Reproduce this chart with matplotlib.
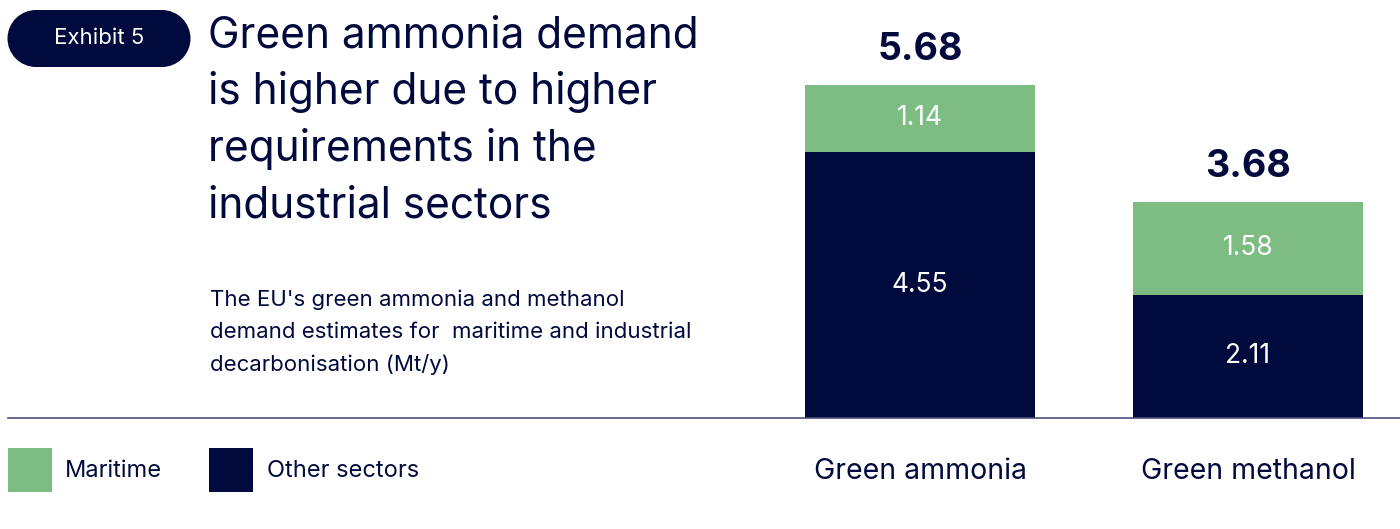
import matplotlib.pyplot as plt
from matplotlib.patches import Rectangle, Ellipse

plt.rcParams['font.family'] = ['Inter', 'DejaVu Sans']

NAVY = '#000a3c'
GREEN = '#7dbd83'
LINE = '#4a4f7a'

categories = ['Green ammonia', 'Green methanol']
other_sectors = [4.55, 2.11]
maritime = [1.14, 1.58]
totals = ['5.68', '3.68']
legend_labels = ['Maritime', 'Other sectors']

W, H = 1400, 529
fig = plt.figure(figsize=(W / 100, H / 100), dpi=100)

# axes spans x 8..1400 px, baseline at y=418 px
ax = fig.add_axes([8 / W, (H - 418) / H, (W - 8) / W, 418 / H])
px_per_unit_x = 328
ax.set_xlim(-(920 - 8) / px_per_unit_x, 1 + (1400 - 1248) / px_per_unit_x)
ax.set_ylim(0, 418 / 58.5)
bw = 230 / px_per_unit_x
xs = range(len(categories))

ax.bar(xs, other_sectors, bw, color=NAVY)
ax.bar(xs, maritime, bw, bottom=other_sectors, color=GREEN)

for i in xs:
    ax.text(i, other_sectors[i] / 2, f'{other_sectors[i]:.2f}', ha='center', va='center',
            color='white', fontsize=19)
    ax.text(i, other_sectors[i] + maritime[i] / 2, f'{maritime[i]:.2f}', ha='center',
            va='center', color='white', fontsize=19)
    top = other_sectors[i] + maritime[i]
    ax.annotate(totals[i], (i, top), xytext=(0, 25), textcoords='offset points',
                ha='center', va='center', color=NAVY, fontsize=27, fontweight='bold')

for s in ['top', 'right', 'left']:
    ax.spines[s].set_visible(False)
ax.spines['bottom'].set_color(LINE)
ax.spines['bottom'].set_linewidth(1.2)
ax.set_yticks([])
ax.set_xticks(list(xs))
ax.set_xticklabels(categories, fontsize=20.5, color=NAVY)
ax.tick_params(axis='x', length=0, pad=29)

# exhibit pill
fig.patches.append(Rectangle((36 / W, (H - 67) / H), 126 / W, 57 / H,
                             transform=fig.transFigure, facecolor=NAVY, edgecolor='none'))
for cx in (36, 162):
    fig.patches.append(Ellipse((cx / W, (H - 38.5) / H), 57 / W, 57 / H,
                               transform=fig.transFigure, facecolor=NAVY, edgecolor='none'))
fig.text(99 / W, 1 - 38 / H, 'Exhibit 5', color='white', fontsize=16,
         ha='center', va='center')

# title and subtitle
fig.text(208 / W, 1 - 15 / H,
         'Green ammonia demand\nis higher due to higher\nrequirements in the\nindustrial sectors',
         color=NAVY, fontsize=30.5, ha='left', va='top', linespacing=1.46)
fig.text(210 / W, 1 - 290 / H,
         "The EU's green ammonia and methanol\ndemand estimates for  maritime and industrial\ndecarbonisation (Mt/y)",
         color=NAVY, fontsize=16, ha='left', va='top', linespacing=1.72)

# legend
for lx, tx, col, lab in [(8, 65, GREEN, legend_labels[0]), (209, 267, NAVY, legend_labels[1])]:
    fig.patches.append(Rectangle((lx / W, 1 - 492 / H), 44 / W, 44 / H,
                                 transform=fig.transFigure, facecolor=col, edgecolor='none'))
    fig.text(tx / W, 1 - 471 / H, lab, color=NAVY, fontsize=17, ha='left', va='center')

fig.savefig('out.png', dpi=100)
